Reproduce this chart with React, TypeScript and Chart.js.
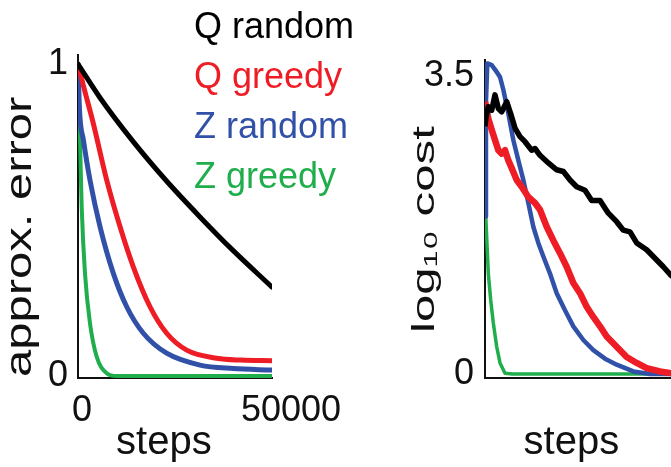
import React, { useEffect, useRef } from 'react';
import { Chart, registerables, LinearScale } from 'chart.js';

// ---------- data ----------
const seriesNames = ['Q random', 'Q greedy', 'Z random', 'Z greedy'];
const seriesColors = ['#000000', '#ee1c25', '#3150a8', '#1fae4b'];

// left panel: approx. error vs steps
const leftQRandomSteps = [0, 5670, 14180, 22820, 31440, 39740, 50000];
const leftQRandomErr = [1.0, 0.892, 0.752, 0.625, 0.51, 0.405, 0.285];
const leftQGreedySteps = [0, 1400, 3940, 7400, 10820, 14250, 18560, 22860, 28020, 35750, 42000, 50000];
const leftQGreedyErr = [1.0, 0.93, 0.81, 0.628, 0.479, 0.35, 0.222, 0.137, 0.083, 0.057, 0.051, 0.049];
const leftZRandomSteps = [0, 400, 1400, 3090, 5670, 9110, 12550, 16840, 22850, 31440, 40000, 50000];
const leftZRandomErr = [1.0, 0.85, 0.756, 0.628, 0.479, 0.329, 0.222, 0.137, 0.073, 0.035, 0.024, 0.019];
const leftZGreedySteps = [0, 520, 950, 1800, 3090, 4810, 7390, 10000, 50000];
const leftZGreedyErr = [1.0, 0.756, 0.543, 0.329, 0.169, 0.062, 0.009, 0.0, 0.0];

// right panel: log10 cost vs steps
const rightQRandomSteps = [0, 260, 850, 1720, 2560, 3420, 4280, 5560, 6580, 7690, 8970, 10260, 11970, 12820, 14100, 16240, 18380, 20090, 21800, 23500, 25640, 27350, 29490, 31620, 33760, 35470, 37180, 38890, 41450, 44020, 45720, 47690, 50000];
const rightQRandomCost = [2.91, 3.02, 3.14, 3.1, 3.28, 3.12, 3.08, 3.2, 3.06, 2.89, 2.79, 2.73, 2.63, 2.65, 2.57, 2.48, 2.4, 2.38, 2.28, 2.2, 2.16, 2.04, 2.04, 1.89, 1.79, 1.69, 1.67, 1.54, 1.46, 1.34, 1.26, 1.16, 1.08];
const rightQGreedySteps = [0, 300, 850, 1720, 2560, 3420, 4280, 5130, 5980, 6850, 8130, 9410, 11110, 12820, 14100, 15820, 17520, 19230, 20940, 22650, 24360, 26070, 27780, 29490, 31200, 33760, 36320, 38890, 41450, 44870, 47690, 50000];
const rightQGreedyCost = [3.2, 3.14, 3.0, 2.87, 2.75, 2.63, 2.59, 2.63, 2.51, 2.42, 2.28, 2.2, 2.08, 2.01, 1.93, 1.73, 1.57, 1.42, 1.26, 1.07, 0.95, 0.79, 0.67, 0.56, 0.44, 0.32, 0.2, 0.13, 0.07, 0.03, 0.01, 0.0];
const rightZRandomSteps = [0, 250, 600, 1720, 3000, 3850, 4700, 5980, 7260, 8550, 9830, 11110, 12390, 13670, 14960, 16670, 18380, 20510, 22650, 25210, 27780, 30770, 33760, 38030, 42300, 50000];
const rightZRandomCost = [1.85, 3.2, 3.65, 3.63, 3.55, 3.49, 3.34, 3.06, 2.75, 2.51, 2.28, 2.01, 1.73, 1.54, 1.38, 1.18, 0.95, 0.75, 0.56, 0.4, 0.28, 0.18, 0.11, 0.03, 0.0, 0.0];
const rightZGreedySteps = [0, 200, 850, 1460, 2130, 3000, 3850, 5130, 7000, 50000];
const rightZGreedyCost = [2.05, 1.85, 1.18, 0.87, 0.6, 0.32, 0.13, 0.01, 0.0, 0.0];

const leftYTicks = [0, 1];
const leftYTickLabels = ['0', '1'];
const leftXTicks = [0, 50000];
const leftXTickLabels = ['0', '   50000'];
const rightYTicks = [0, 3.5];
const rightYTickLabels = ['0', '3.5'];

// ---------- scale with stretchable title ----------
class StretchTitleScale extends LinearScale {
  static id = 'stretchLinear';
  drawTitle() {
    const t: any = (this.options as any).title;
    const s = t && t.stretchY ? t.stretchY : 1;
    if (s === 1 || t.startY === undefined) {
      super.drawTitle();
      return;
    }
    const ctx = this.ctx;
    ctx.save();
    ctx.translate(0, t.startY);
    ctx.scale(1, s);
    ctx.translate(0, -this.bottom);
    super.drawTitle();
    ctx.restore();
  }
}
Chart.register(...registerables, StretchTitleScale);

const FONT = "'Liberation Sans', Arial, Helvetica, sans-serif";

const pts = (xs: number[], ys: number[]) => xs.map((x, i) => ({ x, y: ys[i] }));

function makeChart(canvas: HTMLCanvasElement, cfg: any) {
  return new Chart(canvas, cfg);
}

export default function App() {
  const leftRef = useRef<HTMLCanvasElement>(null);
  const rightRef = useRef<HTMLCanvasElement>(null);

  useEffect(() => {
    document.body.style.margin = '0';
    const border = { display: true, color: '#111111', width: 2 };
    const grid = { display: false, drawTicks: false };

    const left = makeChart(leftRef.current!, {
      type: 'line',
      data: {
        datasets: [
          { label: seriesNames[0], data: pts(leftQRandomSteps, leftQRandomErr), borderColor: seriesColors[0], borderWidth: 5 },
          { label: seriesNames[1], data: pts(leftQGreedySteps, leftQGreedyErr), borderColor: seriesColors[1], borderWidth: 5 },
          { label: seriesNames[2], data: pts(leftZRandomSteps, leftZRandomErr), borderColor: seriesColors[2], borderWidth: 5 },
          { label: seriesNames[3], data: pts(leftZGreedySteps, leftZGreedyErr), borderColor: seriesColors[3], borderWidth: 4 },
        ],
      },
      options: {
        animation: false,
        responsive: false,
        maintainAspectRatio: false,
        devicePixelRatio: 1,
        layout: { autoPadding: false, padding: { left: 0, top: 55, right: 128, bottom: 0 } },
        elements: { point: { radius: 0 }, line: { cubicInterpolationMode: 'monotone', borderCapStyle: 'round' } },
        plugins: { legend: { display: false }, tooltip: { enabled: false } },
        scales: {
          x: {
            type: 'linear', min: 0, max: 50000,
            grid, border,
            afterBuildTicks: (s: any) => { s.ticks = leftXTicks.map((v) => ({ value: v })); },
            afterFit: (s: any) => { s.height = 89; },
            ticks: {
              padding: 11, labelOffset: 4, maxRotation: 0, autoSkip: false, color: '#111',
              font: { family: FONT, size: 36 },
              callback: (_v: any, i: number) => leftXTickLabels[i],
            },
            title: { display: true, text: 'steps  ', color: '#111', font: { family: FONT, size: 40, lineHeight: 1 }, padding: { top: 0, bottom: 4 } },
          },
          y: {
            type: 'stretchLinear', min: -0.0064, max: 1.029,
            grid, border,
            afterBuildTicks: (s: any) => { s.ticks = leftYTicks.map((v) => ({ value: v })); },
            afterFit: (s: any) => { s.width = 78; },
            ticks: {
              padding: 10, autoSkip: false, color: '#111',
              font: { family: FONT, size: 36 },
              callback: (_v: any, i: number) => leftYTickLabels[i],
            },
            title: {
              display: true, text: 'approx. error', align: 'start', color: '#111',
              font: { family: FONT, size: 36, lineHeight: 1 }, padding: { top: 3, bottom: 0 },
              stretchY: 1.36, startY: 377,
            },
          },
        },
      },
    });

    const right = makeChart(rightRef.current!, {
      type: 'line',
      data: {
        datasets: [
          { label: seriesNames[0], data: pts(rightQRandomSteps, rightQRandomCost), borderColor: seriesColors[0], borderWidth: 5.5 },
          { label: seriesNames[1], data: pts(rightQGreedySteps, rightQGreedyCost), borderColor: seriesColors[1], borderWidth: 6.5 },
          { label: seriesNames[2], data: pts(rightZRandomSteps, rightZRandomCost), borderColor: seriesColors[2], borderWidth: 4.5 },
          { label: seriesNames[3], data: pts(rightZGreedySteps, rightZGreedyCost), borderColor: seriesColors[3], borderWidth: 3.5 },
        ],
      },
      options: {
        animation: false,
        responsive: false,
        maintainAspectRatio: false,
        devicePixelRatio: 1,
        layout: { autoPadding: false, padding: { left: 0, top: 60, right: 0, bottom: 0 } },
        elements: { point: { radius: 0 }, line: { tension: 0, borderJoinStyle: 'round' } },
        plugins: { legend: { display: false }, tooltip: { enabled: false } },
        scales: {
          x: {
            type: 'linear', min: 0, max: 50000,
            grid, border,
            afterFit: (s: any) => { s.height = 89; },
            ticks: { display: false },
            title: { display: true, text: 'steps  ', color: '#111', font: { family: FONT, size: 40, lineHeight: 1 }, padding: { top: 0, bottom: 4 } },
          },
          y: {
            type: 'stretchLinear', min: -0.047, max: 3.69,
            grid, border,
            afterBuildTicks: (s: any) => { s.ticks = rightYTicks.map((v) => ({ value: v })); },
            afterFit: (s: any) => { s.width = 105; },
            ticks: {
              padding: 11, autoSkip: false, color: '#111',
              font: { family: FONT, size: 36 },
              callback: (_v: any, i: number) => rightYTickLabels[i],
            },
            title: {
              display: true, text: 'log\u2081\u2080 cost', align: 'start', color: '#111',
              font: { family: FONT, size: 32, lineHeight: 1 }, padding: { top: 29, bottom: 0 },
              stretchY: 1.54, startY: 333,
            },
          },
        },
      },
    });

    return () => {
      left.destroy();
      right.destroy();
    };
  }, []);

  return (
    <div style={{ position: 'fixed', left: 0, top: 0, width: 671, height: 467, overflow: 'hidden', background: '#ffffff' }}>
      <canvas ref={leftRef} width={400} height={467} style={{ position: 'absolute', left: 0, top: 0, width: 400, height: 467 }} />
      <canvas ref={rightRef} width={300} height={467} style={{ position: 'absolute', left: 380, top: 0, width: 300, height: 467 }} />
      <div style={{ position: 'absolute', left: 194, top: 1, fontFamily: FONT, fontSize: 36, lineHeight: '50px', whiteSpace: 'nowrap' }}>
        {seriesNames.map((n, i) => (
          <div key={n} style={{ color: seriesColors[i] }}>{n}</div>
        ))}
      </div>
    </div>
  );
}
